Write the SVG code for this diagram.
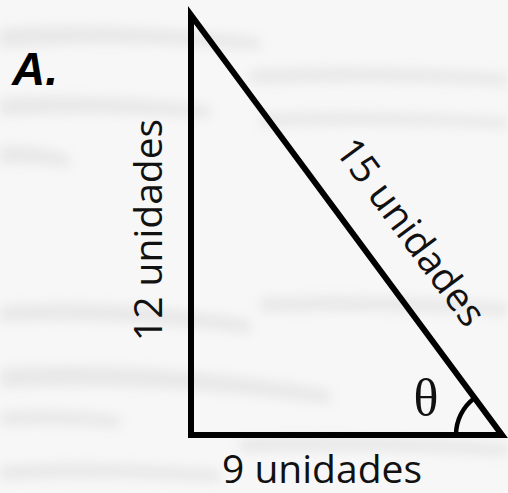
<svg xmlns="http://www.w3.org/2000/svg" width="508" height="493" viewBox="0 0 508 493">
  <defs>
    <filter id="blur" x="-20%" y="-300%" width="140%" height="700%">
      <feGaussianBlur stdDeviation="6"/>
    </filter>
    <style>
      .edge { fill: none; stroke: #000; stroke-width: 6; stroke-linejoin: miter; }
      .arc { fill: none; stroke: #000; stroke-width: 4.5; }
      .lbl { font-family: "Open Sans", "Noto Sans", "DejaVu Sans", sans-serif; font-size: 39px; fill: #111; }
      .theta { font-family: "Liberation Serif", "Times New Roman", serif; font-size: 52px; fill: #111; }
      .tag { font-family: "Liberation Sans", Arial, sans-serif; font-size: 46px; font-weight: bold; font-style: italic; fill: #000; }
      .streak { fill: #d6d6d6; opacity: 0.45; filter: url(#blur); }
    </style>
  </defs>

  <g id="background">
    <rect x="0" y="0" width="508" height="493" fill="#f7f7f7"/>
    <path class="streak" d="M0,28 Q120,22 260,38 L260,50 Q120,38 0,48 Z"/>
    <path class="streak" d="M0,98 Q100,93 210,106 L210,118 Q100,110 0,116 Z"/>
    <path class="streak" d="M0,146 Q40,144 70,156 L70,168 Q40,162 0,164 Z"/>
    <path class="streak" d="M250,70 Q380,64 508,74 L508,86 Q380,78 250,84 Z"/>
    <path class="streak" d="M260,114 Q380,110 508,118 L508,128 Q380,122 260,126 Z"/>
    <path class="streak" d="M0,306 Q120,298 250,320 L250,334 Q120,316 0,322 Z"/>
    <path class="streak" d="M260,298 Q400,294 508,304 L508,316 Q400,308 260,312 Z"/>
    <path class="streak" d="M0,368 Q150,360 330,390 L330,404 Q150,380 0,388 Z"/>
    <path class="streak" d="M0,412 Q60,408 120,416 L120,428 Q60,422 0,426 Z"/>
    <path class="streak" d="M240,438 Q380,434 508,444 L508,456 Q380,448 240,452 Z"/>
    <path class="streak" d="M0,466 Q100,460 220,470 L220,482 Q100,474 0,480 Z"/>
  </g>

  <g id="triangle">
    <path class="edge" d="M191,15 L191,435 L502,435 Z"/>
    <path class="arc" d="M456,435 A46,46 0 0 1 474.6,398"/>
  </g>

  <g id="labels">
    <text id="label-a" class="tag" x="12" y="85">A.</text>
    <text id="label-12" class="lbl" text-anchor="middle" transform="translate(162,230) rotate(-90)">12 unidades</text>
    <text id="label-15" class="lbl" text-anchor="middle" transform="translate(400,240) rotate(53.5)">15 unidades</text>
    <text id="label-9" class="lbl" text-anchor="middle" x="322" y="483">9 unidades</text>
    <text id="label-theta" class="theta" text-anchor="middle" x="426" y="415">θ</text>
  </g>
</svg>
